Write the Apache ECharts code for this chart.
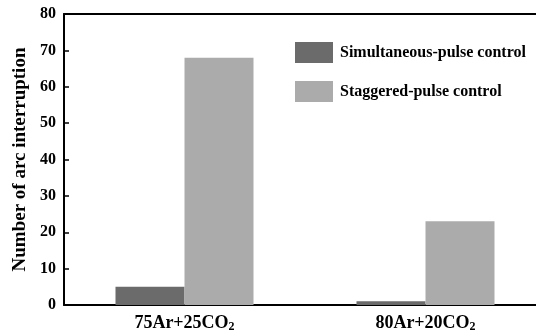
<!DOCTYPE html>
<html><head><meta charset="utf-8">
<script src="https://cdn.jsdelivr.net/npm/echarts@6/dist/echarts.min.js"></script>
<style>html,body{margin:0;padding:0;background:#fff}#c{width:536px;height:331px}</style>
</head><body><div id="c"></div>
<script>
const categories = ['75Ar+25CO', '80Ar+20CO'];
const simultaneous = [5, 1];
const staggered = [68, 23];
const yTicks = [0, 10, 20, 30, 40, 50, 60, 70, 80];
const seriesNames = ['Simultaneous-pulse control', 'Staggered-pulse control'];

const FONT = 'Liberation Serif';
const chart = echarts.init(document.getElementById('c'));
chart.setOption({
  animation: false,
  grid: { left: 64, width: 482, top: 14, height: 291, show: false, containLabel: false, outerBoundsMode: 'none' },
  legend: {
    orient: 'vertical', left: 290, top: 37,
    itemWidth: 38, itemHeight: 21, itemGap: 18, icon: 'rect',
    textStyle: { fontFamily: FONT, fontWeight: 'bold', fontSize: 16, color: '#000', padding: [0, 0, 0, 2] },
    data: seriesNames
  },
  xAxis: [{
    type: 'category', data: categories,
    axisLine: { lineStyle: { color: '#000', width: 2 } },
    axisTick: { show: false },
    axisLabel: {
      margin: 8, color: '#000',
      formatter: v => '{a|' + v + '}{s|2}',
      rich: {
        a: { fontFamily: FONT, fontWeight: 'bold', fontSize: 18, color: '#000' },
        s: { fontFamily: FONT, fontWeight: 'bold', fontSize: 12, color: '#000', verticalAlign: 'bottom', padding: [8, 0, 0, 0] }
      }
    }
  }, {
    type: 'category', data: categories, position: 'top',
    axisLine: { show: true, lineStyle: { color: '#000', width: 2 } },
    axisTick: { show: false }, axisLabel: { show: false }
  }],
  yAxis: {
    type: 'value', min: yTicks[0], max: yTicks[yTicks.length - 1], interval: 10,
    name: 'Number of arc interruption', nameLocation: 'middle', nameGap: 32, nameRotate: 90,
    nameTextStyle: { fontFamily: FONT, fontWeight: 'bold', fontSize: 19, color: '#000' },
    axisLine: { show: true, lineStyle: { color: '#000', width: 2 } },
    axisTick: { show: true, inside: true, length: 5, lineStyle: { color: '#000', width: 1.5 } },
    splitLine: { show: false },
    axisLabel: { margin: 8, fontFamily: FONT, fontWeight: 'bold', fontSize: 16, color: '#000' }
  },
  series: [
    { name: seriesNames[0], type: 'bar', data: simultaneous, barWidth: 69, barGap: '0%', itemStyle: { color: '#6b6b6b' } },
    { name: seriesNames[1], type: 'bar', data: staggered, barWidth: 69, barGap: '0%', itemStyle: { color: '#ababab' } }
  ]
});
</script></body></html>
